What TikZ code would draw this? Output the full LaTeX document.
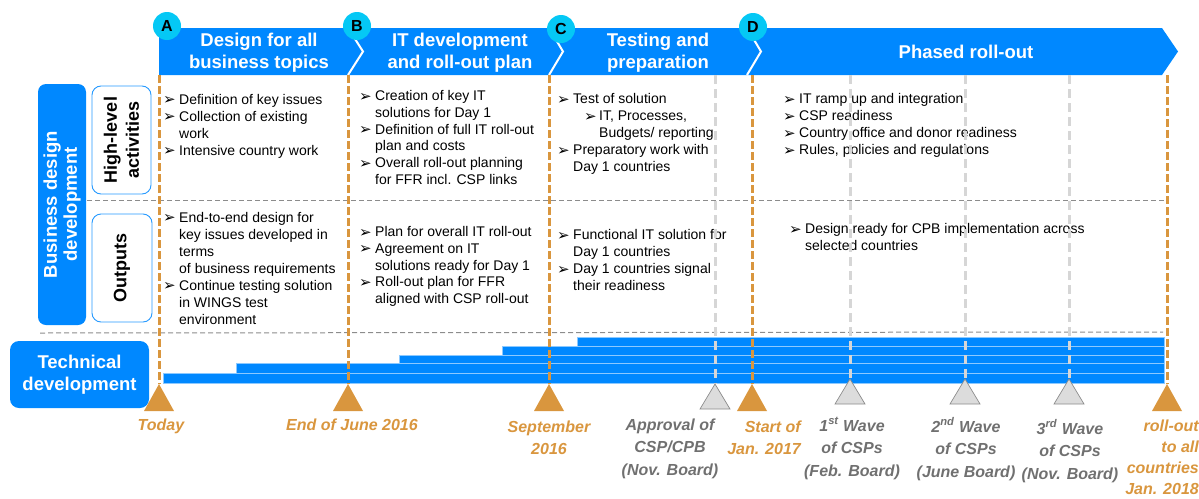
\documentclass[tikz,border=0pt]{standalone}
\usepackage{fontspec}
\setmainfont{Liberation Sans}
\newfontfamily\symfont{DejaVu Sans}
\definecolor{rblue}{RGB}{0,136,255}
\definecolor{rcyan}{RGB}{5,200,245}
\definecolor{rorange}{RGB}{217,150,62}
\definecolor{rgreyl}{RGB}{214,214,214}
\definecolor{rgreyt}{RGB}{112,112,112}
\definecolor{rgreyd}{RGB}{140,140,140}
% bullet and indentation for the activity lists
\newcommand\bulglyph{\raisebox{-0.5pt}{\symfont\fontsize{15}{15}\selectfont ➢}}
\newcommand\bl{\makebox[16pt][l]{\bulglyph}}
\newcommand\ind{\hspace*{16pt}}
\newcommand\txtblock[2][17pt]{\parbox[t]{330pt}{\fontsize{14}{#1}\selectfont\raggedright #2}}
\newcommand\headblock[1]{\parbox[t]{220pt}{\centering\fontsize{18.5}{22}\selectfont\bfseries #1}}
\newcommand\mlblock[2][22.5pt]{\parbox[t]{150pt}{\centering\fontsize{16}{#1}\selectfont\bfseries\itshape #2}}
\newcommand\mrblock[2][22.5pt]{\parbox[t]{150pt}{\raggedleft\fontsize{16}{#1}\selectfont\bfseries\itshape #2}}
\begin{document}
\begin{tikzpicture}[x=1pt,y=-1pt,
  txt/.style={anchor=base west, inner sep=0pt},
  head/.style={anchor=base, inner sep=0pt, text=white},
  sidebox/.style={fill=rblue, rounded corners=8pt, inner sep=0pt, text=white,
    align=center, font=\fontsize{18.5}{20}\selectfont\bfseries},
  rowbox/.style={draw=rblue!85!white, line width=0.9pt, fill=white, rounded corners=9pt,
    inner sep=0pt, align=center, font=\fontsize{18}{22}\selectfont\bfseries},
  phasemark/.style={circle, fill=rcyan, minimum size=28pt, inner sep=0pt,
    font=\fontsize{16}{16}\selectfont\bfseries},
  odash/.style={draw=rorange, line width=3pt, dash pattern=on 7.5pt off 3.5pt},
  gdash/.style={draw=rgreyl, line width=3pt, dash pattern=on 9pt off 5pt},
  hdash/.style={draw=rgreyd, line width=1pt, dash pattern=on 5pt off 3pt},
  techbar/.style={fill=rblue, draw=white!55!rblue, line width=0.8pt},
  otri/.style={fill=rorange},
  gtri/.style={fill=rgreyl!85!white, draw=rgreyd, line width=0.7pt},
  olab/.style={anchor=base, inner sep=0pt, text=rorange},
  glab/.style={anchor=base, inner sep=0pt, text=rgreyt}]
\useasboundingbox (0,0) rectangle (1199,498);

% phase banner with chevron separators
\fill[rblue] (159,28) -- (1162,28) -- (1178,51.5) -- (1162,75) -- (159,75) -- cycle;
\foreach \bx/\tx in {348/363, 549/563, 747/761}
  \draw[white, line width=2pt] (\bx,28) -- (\tx,51.5) -- (\bx,75);

\node[head] (hA) at (259,46.5) {\headblock{Design for all\\business topics}};
\node[head] (hB) at (460,46.5) {\headblock{IT development\\and roll-out plan}};
\node[head] (hC) at (658,46.5) {\headblock{Testing and\\preparation}};
\node[head] (hD) at (966,58.5) {\headblock{Phased roll-out}};

% row headers
\node[sidebox, rotate=90, minimum width=241pt, minimum height=48pt] (bdd) at (62,204.5)
  {Business design\\development};
\node[rowbox, rotate=90, minimum width=108pt, minimum height=59pt] (hla) at (121.5,140)
  {High-level\\activities};
\node[rowbox, rotate=90, minimum width=108pt, minimum height=60pt] (outp) at (122,268)
  {Outputs};
\node[sidebox, minimum width=139pt, minimum height=67pt, rounded corners=9pt,
  font=\fontsize{18.5}{22}\selectfont\bfseries] (tech) at (79.5,374.5)
  {Technical\\development};

% high-level activities
\node[txt] (aA) at (163,104) {\txtblock{\bl Definition of key issues\\
  \bl Collection of existing\\ \ind work\\ \bl Intensive country work}};
\node[txt] (aB) at (359,100.5) {\txtblock[16.8pt]{\bl Creation of key IT\\
  \ind solutions for Day 1\\ \bl Definition of full IT roll-out\\ \ind plan and costs\\
  \bl Overall roll-out planning\\ \ind for FFR incl. CSP links}};
\node[txt] (aC) at (557,103.5) {\txtblock{\bl Test of solution\\
  \hspace*{27pt}\makebox[15pt][l]{\bulglyph}IT, Processes,\\
  \hspace*{42pt}Budgets/ reporting\\ \bl Preparatory work with\\ \ind Day 1 countries}};
\node[txt] (aD) at (783,103.5) {\txtblock{\bl IT ramp up and integration\\
  \bl CSP readiness\\ \bl Country office and donor readiness\\
  \bl Rules, policies and regulations}};

% outputs
\node[txt] (oA) at (163,222) {\txtblock{\bl End-to-end design for\\
  \ind key issues developed in\\ \ind terms\\ \ind of business requirements\\
  \bl Continue testing solution\\ \ind in WINGS test\\ \ind environment}};
\node[txt] (oB) at (359,236.5) {\txtblock[16.8pt]{\bl Plan for overall IT roll-out\\
  \bl Agreement on IT\\ \ind solutions ready for Day 1\\ \bl Roll-out plan for FFR\\
  \ind aligned with CSP roll-out}};
\node[txt] (oC) at (557,239.5) {\txtblock{\bl Functional IT solution for\\
  \ind Day 1 countries\\ \bl Day 1 countries signal\\ \ind their readiness}};
\node[txt] (oD) at (789,233.5) {\txtblock{\bl Design ready for CPB implementation across\\
  \ind selected countries}};

% row separators
\coordinate (s1a) at (87,200);  \coordinate (s1b) at (1165,200);
\coordinate (s2a) at (40,333);  \coordinate (s2b) at (1163,332);
\draw[hdash] (s1a) -- (s1b);
\draw[hdash] (s2a) -- (s2b);

% technical development bars
\draw[techbar] (163,373.5) rectangle (1164,383);
\draw[techbar] (236,363.5) rectangle (1164,373.5);
\draw[techbar] (399,355) rectangle (1164,363.5);
\draw[techbar] (502,346) rectangle (1164,355);
\draw[techbar] (577,337.5) rectangle (1164,346);

% milestone lines and markers
\foreach \n/\mx in {A/159, B/348, C/549, D/752, E/1167} {
  \coordinate (ot\n) at (\mx,75);
  \coordinate (om\n) at (\mx,384);
  \draw[odash] (ot\n) -- (om\n);
  \fill[otri] (om\n) -- ++(-15,27) -- ++(30,0) -- cycle;
}
\coordinate (gtP) at (715,75);  \coordinate (gmP) at (715,384);
\draw[gdash] (gtP) -- (gmP);
\draw[gtri] (gmP) -- ++(-15,25) -- ++(30,0) -- cycle;
\foreach \n/\mx in {1/850, 2/965, 3/1069} {
  \coordinate (gt\n) at (\mx,75);
  \coordinate (gm\n) at (\mx,379);
  \draw[gdash] (gt\n) -- (gm\n);
  \draw[gtri] (gm\n) -- ++(-15,25) -- ++(30,0) -- cycle;
}

% phase markers
\node[phasemark] (mA) at (167,26) {A};
\node[phasemark] (mB) at (357,26) {B};
\node[phasemark] (mC) at (561,29) {C};
\node[phasemark] (mD) at (753,27) {D};

% milestone labels
\node[olab] (lA) at (161,430) {\mlblock{Today}};
\node[olab] (lB) at (352,430) {\mlblock{End of June 2016}};
\node[olab] (lC) at (549,432) {\mlblock{September\\2016}};
\node[glab] (lP) at (670,430) {\mlblock{Approval of\\CSP/CPB\\(Nov. Board)}};
\node[olab, anchor=base east] (lD) at (801,432) {\mrblock{Start of\\Jan. 2017}};
\node[glab] (l1) at (852,431) {\mlblock{1\textsuperscript{st} Wave\\of CSPs\\(Feb. Board)}};
\node[glab] (l2) at (966,432) {\mlblock{2\textsuperscript{nd} Wave\\of CSPs\\(June Board)}};
\node[glab] (l3) at (1070,434) {\mlblock{3\textsuperscript{rd} Wave\\of CSPs\\(Nov. Board)}};
\node[olab, anchor=base east] (lE) at (1199,431) {\mrblock[21pt]{roll-out\\to all\\countries\\Jan. 2018}};
\end{tikzpicture}
\end{document}
